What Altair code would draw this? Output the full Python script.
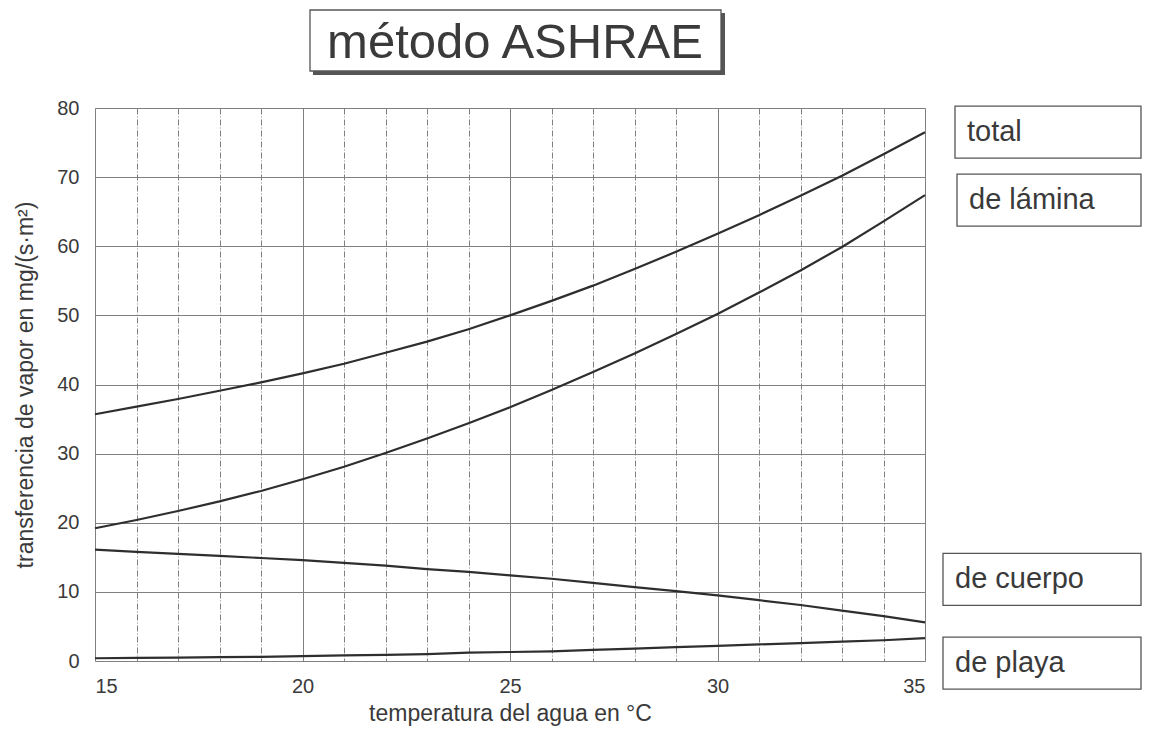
import altair as alt
import pandas as pd

temps = list(range(15, 36))
total = [35.7, 36.8, 37.9, 39.1, 40.3, 41.6, 43.0, 44.6, 46.2, 48.0, 50.0,
         52.1, 54.3, 56.7, 59.2, 61.8, 64.5, 67.3, 70.2, 73.3, 76.5]
lamina = [19.2, 20.4, 21.7, 23.1, 24.6, 26.3, 28.1, 30.1, 32.2, 34.4, 36.7,
          39.2, 41.8, 44.5, 47.3, 50.2, 53.3, 56.5, 59.9, 63.6, 67.4]
cuerpo = [16.1, 15.8, 15.5, 15.2, 14.9, 14.6, 14.2, 13.8, 13.3, 12.9, 12.4,
          11.9, 11.3, 10.7, 10.1, 9.5, 8.8, 8.1, 7.3, 6.5, 5.6]
playa = [0.4, 0.45, 0.5, 0.55, 0.6, 0.7, 0.8, 0.9, 1.0, 1.2, 1.3,
         1.4, 1.6, 1.8, 2.0, 2.2, 2.4, 2.6, 2.8, 3.0, 3.3]
series_names = ["total", "de lámina", "de cuerpo", "de playa"]
title_text = "método ASHRAE"
x_title = "temperatura del agua en °C"
y_title = "transferencia de vapor en mg/(s·m²)"

series_values = [total, lamina, cuerpo, playa]
rows = []
for name, vals in zip(series_names, series_values):
    for t, v in zip(temps, vals):
        rows.append({"T": t, "v": v, "serie": name})
df = pd.DataFrame(rows)

FONT = "Liberation Sans"
TXT = "#3a3a3a"
yscale = alt.Scale(domain=[0, 80], nice=False)
xscale = alt.Scale(domain=[15, 35], nice=False)

lines = alt.Chart(df).mark_line(color="#2e2e2e", strokeWidth=2.2).encode(
    x=alt.X("T:Q", scale=xscale, title=x_title,
            axis=alt.Axis(values=list(range(15, 36)),
                          labelExpr="datum.value % 5 === 0 ? datum.label : ''",
                          ticks=False, domain=False, grid=True,
                          gridColor="#808080", gridWidth=1,
                          gridDash={"condition": {"test": "datum.value % 5 === 0", "value": []},
                                    "value": [6, 2, 1, 2]},
                          labelFontSize=20, labelPadding=15, labelColor=TXT,
                          labelFont=FONT, titleFont=FONT, titleFontSize=23,
                          titleFontWeight="normal", titleColor=TXT, titlePadding=6)),
    y=alt.Y("v:Q", scale=yscale, title=y_title,
            axis=alt.Axis(values=list(range(0, 81, 5)),
                          labelExpr="datum.value % 10 === 0 ? datum.label : ''",
                          ticks=False, domain=False, grid=True,
                          gridColor="#808080", gridWidth=1,
                          labelFontSize=20, labelPadding=16, labelColor=TXT,
                          labelFont=FONT, titleFont=FONT, titleFontSize=23,
                          titleFontWeight="normal", titleColor=TXT, titlePadding=19)),
    detail="serie:N",
)

layers = [lines]

# label boxes at the right end of each curve
label_style = {
    "total": (860, 0),
    "de lámina": (862, 5),
    "de cuerpo": (848, -43),
    "de playa": (848, 25),
}
for name, vals in zip(series_names, series_values):
    x0, dy = label_style[name]
    ld = pd.DataFrame({"v": [vals[-1]]})
    box = alt.Chart(ld).mark_rect(fill="white", stroke="#555555", strokeWidth=1.3,
                                  yOffset=dy - 26, y2Offset=dy + 26).encode(
        x=alt.value(x0), x2=alt.value(1046),
        y=alt.Y("v:Q", scale=yscale), y2=alt.Y2("v"))
    txt = alt.Chart(ld).mark_text(align="left", baseline="middle", dy=dy,
                                  fontSize=29, font=FONT, color=TXT).encode(
        x=alt.value(x0 + 12), y=alt.Y("v:Q", scale=yscale), text=alt.value(name))
    layers += [box, txt]

# title box
one = pd.DataFrame({"a": [0]})
shadow = alt.Chart(one).mark_rect(fill="#555555").encode(
    x=alt.value(218), x2=alt.value(630), y=alt.value(-95), y2=alt.value(-33))
tbox = alt.Chart(one).mark_rect(fill="white", stroke="#555555", strokeWidth=1.3).encode(
    x=alt.value(215), x2=alt.value(626), y=alt.value(-98), y2=alt.value(-37))
ttxt = alt.Chart(one).mark_text(align="center", baseline="middle", fontSize=49,
                                font=FONT, color=TXT).encode(
    x=alt.value(420), y=alt.value(-65), text=alt.value(title_text))
layers += [shadow, tbox, ttxt]

chart = alt.layer(*layers).properties(
    width=830, height=553,
    padding={"left": 87, "top": 100, "right": 224, "bottom": 74},
    autosize=alt.AutoSizeParams(type="none"),
).configure_view(stroke="#333333", strokeWidth=1.5).configure(background="white")

chart.save("out.html", embed_options={"renderer": "svg", "actions": False})
